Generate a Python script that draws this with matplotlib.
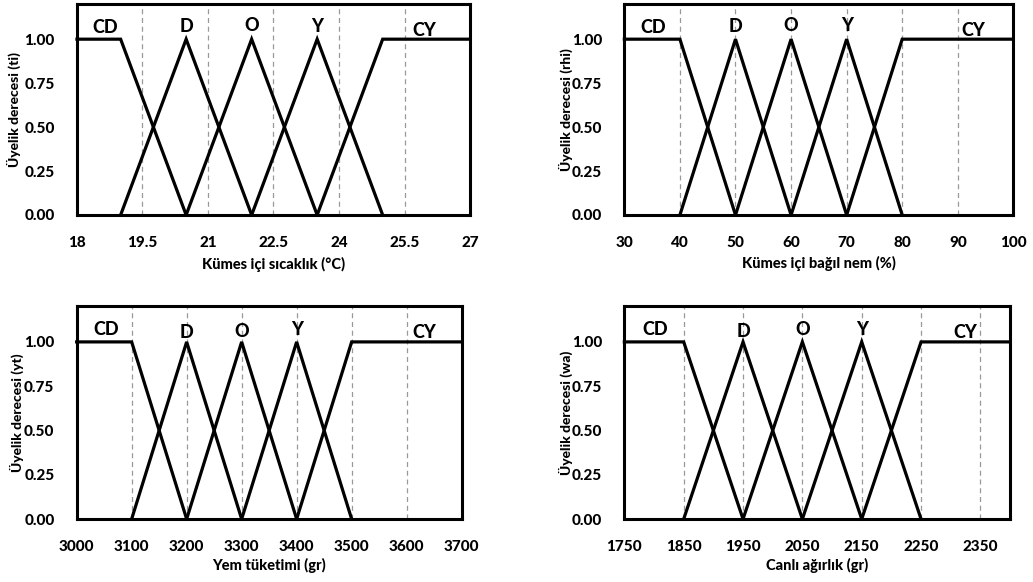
import os
import matplotlib
matplotlib.use("Agg")
import matplotlib.pyplot as plt
from matplotlib import font_manager
from matplotlib.font_manager import FontProperties


def find_font_file(family, keys):
    """Locate an upright font file of the given family whose file name contains one of keys."""
    for key in keys:
        for f in font_manager.fontManager.ttflist:
            base = os.path.basename(f.fname).lower()
            if f.name.startswith(family) and key in base and "italic" not in base \
                    and "semi" not in base and "condensed" not in base:
                return f.fname
    return None


HEAVY_FILE = (find_font_file("Lato", ["heavy", "black", "-bold", "bold"])
              or find_font_file("Noto Sans", ["-bold", "bold"]))


def heavy(size):
    if HEAVY_FILE:
        return FontProperties(fname=HEAVY_FILE, size=size)
    return FontProperties(family="DejaVu Sans", weight="bold", size=size)


# Linguistic terms shared by all four variables
terms = ["CD", "D", "O", "Y", "CY"]

# Breakpoints of the membership functions (CD shoulder, D, O, Y peaks, CY shoulder)
temp_breaks = [19.0, 20.5, 22.0, 23.5, 25.0]
hum_breaks = [40, 50, 60, 70, 80]
feed_breaks = [3100, 3200, 3300, 3400, 3500]
weight_breaks = [1850, 1950, 2050, 2150, 2250]

# Axis ranges and tick values
temp_range = (18, 27)
temp_ticks = [18, 19.5, 21, 22.5, 24, 25.5, 27]
temp_ticklabels = ["18", "19.5", "21", "22.5", "24", "25.5", "27"]

hum_range = (30, 100)
hum_ticks = [30, 40, 50, 60, 70, 80, 90, 100]

feed_range = (3000, 3700)
feed_ticks = [3000, 3100, 3200, 3300, 3400, 3500, 3600, 3700]

weight_range = (1750, 2400)
weight_ticks = [1750, 1850, 1950, 2050, 2150, 2250, 2350]

y_ticks = [0.0, 0.25, 0.5, 0.75, 1.0]

panels = [
    dict(breaks=temp_breaks, xr=temp_range, ticks=temp_ticks, ticklabels=temp_ticklabels,
         xlabel="Kümes içi sıcaklık (°C)", ylabel="Üyelik derecesi (ti)",
         rect=[0.0745, 0.6306, 0.3805, 0.3625], ylab_x=-0.142, xlab_y=-0.199,
         lab_x=[18.64, 20.5, 22.0, 23.5, 25.96], lab_y=[1.066, 1.072, 1.078, 1.07, 1.05]),
    dict(breaks=hum_breaks, xr=hum_range, ticks=hum_ticks, ticklabels=[str(t) for t in hum_ticks],
         xlabel="Kümes içi bağıl nem (%)", ylabel="Üyelik derecesi (rhi)",
         rect=[0.6044, 0.6306, 0.3766, 0.3625], ylab_x=-0.132, xlab_y=-0.194,
         lab_x=[35.2, 50, 60, 70, 92.8], lab_y=[1.066, 1.07, 1.076, 1.08, 1.05]),
    dict(breaks=feed_breaks, xr=feed_range, ticks=feed_ticks, ticklabels=[str(t) for t in feed_ticks],
         xlabel="Yem tüketimi (gr)", ylabel="Üyelik derecesi (yt)",
         rect=[0.0742, 0.1082, 0.3727, 0.3652], ylab_x=-0.137, xlab_y=-0.183,
         lab_x=[3053, 3200, 3300, 3400, 3632], lab_y=[1.07, 1.054, 1.06, 1.072, 1.054]),
    dict(breaks=weight_breaks, xr=weight_range, ticks=weight_ticks, ticklabels=[str(t) for t in weight_ticks],
         xlabel="Canlı ağırlık (gr)", ylabel="Üyelik derecesi (wa)",
         rect=[0.6044, 0.1082, 0.3734, 0.3652], ylab_x=-0.133, xlab_y=-0.183,
         lab_x=[1802, 1950, 2050, 2150, 2324], lab_y=[1.07, 1.06, 1.07, 1.07, 1.054]),
]


def membership_sets(b, xr):
    """Piecewise-linear vertices of the five fuzzy sets."""
    x0, x1 = xr
    return [
        ([x0, b[0], b[1]], [1, 1, 0]),
        ([b[0], b[1], b[2]], [0, 1, 0]),
        ([b[1], b[2], b[3]], [0, 1, 0]),
        ([b[2], b[3], b[4]], [0, 1, 0]),
        ([b[3], b[4], x1], [0, 1, 1]),
    ]


fig = plt.figure(figsize=(10.33, 5.82), dpi=100)

for p in panels:
    ax = fig.add_axes(p["rect"])
    x0, x1 = p["xr"]
    ax.set_xlim(x0, x1)
    ax.set_ylim(0, 1.2)

    # dashed vertical guides at interior ticks
    for t in p["ticks"]:
        if x0 < t < x1:
            ax.axvline(t, color="#999999", lw=0.9, ls=(0, (4, 3)), zorder=1)

    for xs, ys in membership_sets(p["breaks"], p["xr"]):
        ax.plot(xs, ys, color="black", lw=2.3, solid_joinstyle="miter", zorder=3, clip_on=False)

    for name, lx, ly in zip(terms, p["lab_x"], p["lab_y"]):
        ax.text(lx, ly, name, ha="center", va="center", fontproperties=heavy(13))

    ax.set_xticks(p["ticks"])
    ax.set_xticklabels(p["ticklabels"], fontproperties=heavy(11))
    ax.set_yticks(y_ticks)
    ax.set_yticklabels([f"{v:.2f}" for v in y_ticks], fontproperties=heavy(11))
    ax.tick_params(axis="both", length=0)
    ax.tick_params(axis="x", pad=15)
    ax.tick_params(axis="y", pad=16)

    for s in ax.spines.values():
        s.set_linewidth(2.2)
        s.set_color("black")

    ax.set_xlabel(p["xlabel"], fontproperties=heavy(10.5))
    ax.set_ylabel(p["ylabel"], fontproperties=heavy(10))
    ax.xaxis.set_label_coords(0.5, p["xlab_y"])
    ax.yaxis.set_label_coords(p["ylab_x"], 0.5)

fig.savefig("out.png", dpi=100)
